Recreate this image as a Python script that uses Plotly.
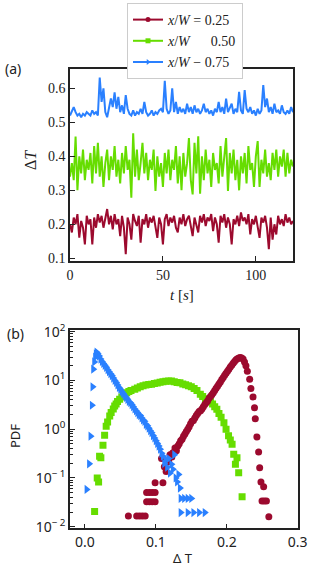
import plotly.graph_objects as go

# ---------------- data: panel (a) time series ----------------
t_s = list(range(0, 121))
dT_025 = [0.2, 0.176, 0.22, 0.2, 0.23, 0.161, 0.21, 0.19, 0.141, 0.225,
          0.2, 0.215, 0.141, 0.22, 0.19, 0.23, 0.205, 0.225, 0.19, 0.22,
          0.245, 0.2, 0.225, 0.185, 0.23, 0.2, 0.215, 0.165, 0.225, 0.19,
          0.112, 0.22, 0.2, 0.155, 0.23, 0.21, 0.195, 0.225, 0.146, 0.215,
          0.2, 0.23, 0.19, 0.22, 0.205, 0.225, 0.185, 0.16, 0.22, 0.2,
          0.141, 0.215, 0.23, 0.195, 0.22, 0.205, 0.225, 0.19, 0.176, 0.22,
          0.2, 0.23, 0.195, 0.215, 0.225, 0.19, 0.165, 0.22, 0.2, 0.176,
          0.225, 0.205, 0.23, 0.195, 0.22, 0.21, 0.23, 0.18, 0.22, 0.2,
          0.146, 0.225, 0.205, 0.23, 0.19, 0.22, 0.2, 0.141, 0.215, 0.2,
          0.225, 0.195, 0.235, 0.21, 0.22, 0.2, 0.23, 0.17, 0.215, 0.2,
          0.225, 0.19, 0.16, 0.22, 0.205, 0.225, 0.19, 0.127, 0.22, 0.155,
          0.2, 0.17, 0.225, 0.2, 0.215, 0.195, 0.23, 0.205, 0.22, 0.2, 0.21]
dT_050 = [0.34, 0.38, 0.33, 0.458, 0.3, 0.4, 0.35, 0.42, 0.33, 0.39,
          0.36, 0.41, 0.32, 0.43, 0.35, 0.44, 0.34, 0.4, 0.31, 0.38,
          0.42, 0.33, 0.4, 0.36, 0.43, 0.34, 0.39, 0.32, 0.41, 0.35,
          0.43, 0.36, 0.39, 0.278, 0.468, 0.34, 0.42, 0.33, 0.38, 0.44,
          0.35, 0.41, 0.33, 0.39, 0.36, 0.42, 0.298, 0.4, 0.34, 0.38,
          0.31, 0.41, 0.35, 0.42, 0.33, 0.39, 0.36, 0.43, 0.32, 0.4,
          0.3, 0.41, 0.34, 0.38, 0.454, 0.33, 0.288, 0.44, 0.35, 0.459,
          0.29, 0.4, 0.33, 0.42, 0.35, 0.39, 0.31, 0.41, 0.36, 0.38,
          0.32, 0.43, 0.34, 0.39, 0.454, 0.298, 0.41, 0.35, 0.42, 0.33,
          0.39, 0.3, 0.4, 0.35, 0.41, 0.32, 0.43, 0.36, 0.38, 0.31,
          0.4, 0.445, 0.31, 0.39, 0.35, 0.42, 0.34, 0.38, 0.33, 0.41,
          0.36, 0.42, 0.34, 0.4, 0.37, 0.42, 0.34, 0.41, 0.35, 0.39, 0.37]
dT_075 = [0.52, 0.535, 0.545, 0.53, 0.52, 0.525, 0.515, 0.525, 0.52, 0.53,
          0.525, 0.52, 0.535, 0.525, 0.53, 0.52, 0.632, 0.56, 0.6, 0.53,
          0.515, 0.54, 0.57, 0.545, 0.588, 0.54, 0.575, 0.53, 0.55, 0.525,
          0.58, 0.54, 0.525, 0.52, 0.535, 0.52, 0.53, 0.525, 0.54, 0.525,
          0.56, 0.53, 0.52, 0.525, 0.535, 0.52, 0.53, 0.525, 0.535, 0.54,
          0.53, 0.622, 0.54, 0.525, 0.535, 0.6, 0.53, 0.56, 0.525, 0.545,
          0.53, 0.54, 0.525, 0.555, 0.53, 0.545, 0.525, 0.55, 0.53, 0.54,
          0.525, 0.535, 0.555, 0.53, 0.54, 0.525, 0.535, 0.52, 0.54, 0.53,
          0.56, 0.53, 0.545, 0.525, 0.57, 0.53, 0.545, 0.555, 0.525, 0.54,
          0.53, 0.59, 0.535, 0.525, 0.595, 0.54, 0.53, 0.545, 0.525, 0.535,
          0.52, 0.54, 0.525, 0.535, 0.61, 0.545, 0.57, 0.53, 0.545, 0.525,
          0.555, 0.53, 0.535, 0.525, 0.55, 0.53, 0.525, 0.535, 0.525, 0.545, 0.53]

# ---------------- data: panel (b) PDFs ----------------
pdf_x_025 = [0.0613, 0.073, 0.077, 0.081, 0.085,
             0.087, 0.091, 0.095, 0.099, 0.087, 0.091, 0.095, 0.099,
             0.099, 0.110,
             0.108, 0.112, 0.1145, 0.116, 0.118, 0.120, 0.1226, 0.124, 0.127, 0.129,
             0.131, 0.133, 0.135, 0.137, 0.139, 0.141, 0.143, 0.145, 0.147, 0.149,
             0.151, 0.153, 0.155, 0.157, 0.159, 0.161, 0.163, 0.165, 0.167, 0.169,
             0.171, 0.173, 0.175, 0.177, 0.179, 0.181, 0.183, 0.185, 0.187, 0.189,
             0.191, 0.193, 0.195, 0.197, 0.199, 0.201, 0.203, 0.205, 0.207, 0.209,
             0.211, 0.213, 0.215, 0.217, 0.219, 0.221, 0.223, 0.225, 0.227, 0.229,
             0.2323, 0.234, 0.237, 0.2391, 0.2402, 0.2425, 0.2449, 0.2464, 0.2482, 0.252,
             0.2497, 0.2528, 0.2559, 0.2593]
pdf_y_025 = [0.0166, 0.0166, 0.0166, 0.0166, 0.0166,
             0.0326, 0.0326, 0.0326, 0.0326, 0.05, 0.05, 0.05, 0.05,
             0.08, 0.08,
             0.25, 0.17, 0.135, 0.21, 0.22, 0.3, 0.27, 0.33, 0.41, 0.36,
             0.45, 0.5, 0.58, 0.62, 0.72, 0.8, 0.9, 1.0, 1.12, 1.3,
             1.45, 1.5, 1.7, 1.9, 2.1, 2.3, 2.4, 2.6, 2.9, 3.2,
             3.5, 3.8, 4.3, 4.7, 5.1, 5.6, 6.2, 6.9, 7.6, 8.5,
             9.3, 10.5, 11.5, 12.8, 14.0, 15.5, 17.0, 18.8, 20.5, 22.5,
             24.5, 26.5, 28.0, 29.0, 29.5, 29.0, 27.5, 24.0, 20.0, 15.5,
             10.6, 6.8, 4.6, 2.76, 1.64, 0.69, 0.34, 0.162, 0.083, 0.066,
             0.0336, 0.0336, 0.0336, 0.016]

pdf_x_050 = [0.0137, 0.0174, 0.0193, 0.0207, 0.0225, 0.0255, 0.0278, 0.030, 0.032, 0.035,
             0.037, 0.040, 0.042, 0.044, 0.046, 0.049, 0.052, 0.054, 0.0564, 0.059,
             0.062, 0.065, 0.0703, 0.074, 0.078, 0.082, 0.086, 0.090, 0.094, 0.098,
             0.102, 0.106, 0.110, 0.114, 0.118, 0.122, 0.126, 0.130, 0.134, 0.138,
             0.142, 0.146, 0.150, 0.154, 0.158, 0.1627, 0.166, 0.170, 0.174, 0.177,
             0.180, 0.183, 0.186, 0.189, 0.192, 0.196, 0.199, 0.2025, 0.205, 0.2075,
             0.2098, 0.2122, 0.2144, 0.2168, 0.2216]
pdf_y_050 = [0.0204, 0.10, 0.083, 0.28, 0.26, 0.47, 0.75, 1.15, 1.4, 1.87,
             2.2, 2.6, 3.0, 3.3, 3.7, 4.1, 4.6, 4.9, 5.2, 5.6,
             5.9, 6.2, 6.6, 7.0, 7.4, 7.8, 8.1, 8.3, 8.4, 8.7,
             8.9, 9.2, 9.4, 9.6, 9.8, 9.7, 9.4, 9.1, 9.0, 8.5,
             8.2, 7.8, 7.4, 6.8, 6.2, 5.2, 4.7, 4.2, 4.0, 3.8,
             3.3, 2.9, 2.56, 2.1, 1.75, 1.36, 1.0, 0.73, 0.6, 0.49,
             0.305, 0.19, 0.26, 0.128, 0.041]

pdf_x_075 = [0.0024, 0.006, 0.008, 0.0099, 0.0108, 0.0118, 0.0132, 0.0145, 0.0155, 0.0165,
             0.018, 0.020, 0.022, 0.024, 0.026, 0.028, 0.030, 0.032, 0.034, 0.036,
             0.038, 0.040, 0.042, 0.044, 0.046, 0.048, 0.050, 0.052, 0.054, 0.056,
             0.058, 0.060, 0.062, 0.064, 0.066, 0.068, 0.070, 0.072, 0.074, 0.076,
             0.078, 0.080, 0.082, 0.084, 0.086, 0.088, 0.090, 0.092, 0.094, 0.096,
             0.098, 0.100, 0.102, 0.104, 0.106, 0.108, 0.110, 0.112, 0.114, 0.116,
             0.118, 0.120, 0.122, 0.124, 0.126, 0.128, 0.130, 0.132, 0.134,
             0.135, 0.140, 0.145, 0.150,
             0.135, 0.145, 0.153, 0.161, 0.169]
pdf_y_075 = [0.058, 0.195, 0.72, 3.1, 7.4, 17.0, 24.0, 30.0, 35.0, 38.0,
             35.5, 31.6, 27.5, 24.5, 22.4, 20.4, 18.6, 16.6, 15.1, 13.8,
             12.6, 11.2, 10.0, 9.1, 8.1, 7.2, 6.6, 5.9, 5.4, 4.9,
             4.5, 4.1, 3.7, 3.5, 3.2, 2.9, 2.6, 2.4, 2.2, 2.0,
             1.9, 1.7, 1.55, 1.45, 1.26, 1.17, 1.05, 0.93, 0.85, 0.74,
             0.66, 0.58, 0.51, 0.45, 0.39, 0.32, 0.28, 0.2, 0.24, 0.166,
             0.25, 0.126, 0.19, 0.15, 0.3, 0.1, 0.083, 0.118, 0.062,
             0.038, 0.038, 0.038, 0.038,
             0.0195, 0.0195, 0.0195, 0.0195, 0.0195]

# tick labels
pdf_tickvals = [0.01, 0.1, 1, 10, 100]
pdf_ticktext = ["10<sup>\u2212 2</sup>", "10<sup>\u2212 1</sup>", "10<sup>0</sup>",
                "10<sup>1</sup>", "10<sup>2</sup>"]
pdf_minor = [m * d for d in [0.01, 0.1, 1, 10] for m in range(2, 10)]

labels = ["<i>x</i>/<i>W</i> = 0.25", "<i>x</i>/<i>W</i> \u2003 0.50", "<i>x</i>/<i>W</i> \u2212 0.75"]
c_red, c_green, c_blue = "#9c0a2e", "#66dd00", "#2a80ff"

fig = go.Figure()

# panel (a) lines
for y, c in [(dT_025, c_red), (dT_050, c_green), (dT_075, c_blue)]:
    fig.add_trace(go.Scatter(x=t_s, y=y, mode="lines", line=dict(color=c, width=2),
                             showlegend=False, xaxis="x", yaxis="y"))

# panel (b) markers
fig.add_trace(go.Scatter(x=pdf_x_050, y=pdf_y_050, mode="markers",
                         marker=dict(symbol="square", size=7, color=c_green),
                         showlegend=False, xaxis="x2", yaxis="y2"))
fig.add_trace(go.Scatter(x=pdf_x_025, y=pdf_y_025, mode="markers",
                         marker=dict(symbol="circle", size=7, color=c_red),
                         showlegend=False, xaxis="x2", yaxis="y2"))
fig.add_trace(go.Scatter(x=pdf_x_075, y=pdf_y_075, mode="markers",
                         marker=dict(symbol="triangle-right", size=8, color=c_blue),
                         showlegend=False, xaxis="x2", yaxis="y2"))

# legend entries
for lab, c, sym in zip(labels, [c_red, c_green, c_blue], ["circle", "square", "triangle-right"]):
    fig.add_trace(go.Scatter(x=[None], y=[None], mode="lines+markers", name=lab,
                             line=dict(color=c, width=2), marker=dict(symbol=sym, size=5, color=c),
                             xaxis="x", yaxis="y"))

serif = "Liberation Serif"
sans = "Noto Sans"
W, H = 320, 580

ax_common = dict(showgrid=False, zeroline=False, showline=True, mirror=True,
                 linecolor="#222", linewidth=1.5, ticks="inside", ticklen=5,
                 tickcolor="#222", automargin=False)

fig.update_layout(
    width=W, height=H, margin=dict(l=0, r=0, t=0, b=0),
    paper_bgcolor="white", plot_bgcolor="white",
    xaxis=dict(domain=[70 / W, 293 / W], range=[0, 120], tickvals=[0, 50, 100],
               tickfont=dict(family=serif, size=14, color="#222"), anchor="y", **ax_common),
    yaxis=dict(domain=[1 - 261 / H, 1 - 69 / H], range=[0.092, 0.657],
               tickvals=[0.1, 0.2, 0.3, 0.4, 0.5, 0.6], tickformat=".1f",
               tickfont=dict(family=serif, size=14, color="#222"), anchor="x", **ax_common),
    xaxis2=dict(domain=[70 / W, 297.7 / W], range=[-0.021, 0.3], tickvals=[0, 0.1, 0.2, 0.3],
                tickformat=".1f", tickfont=dict(family=sans, size=14, color="#222"),
                anchor="y2", **ax_common),
    yaxis2=dict(domain=[1 - 528.3 / H, 1 - 330 / H], type="log", range=[-2.033, 2.035],
                tickvals=pdf_tickvals, ticktext=pdf_ticktext,
                tickfont=dict(family=sans, size=14, color="#222"), anchor="x2",
                minor=dict(tickvals=pdf_minor, ticks="inside", ticklen=3, tickcolor="#222"),
                **ax_common),
    legend=dict(x=127 / W, y=1 - 3 / H, xanchor="left", yanchor="top",
                font=dict(family=serif, size=14, color="#222"),
                bordercolor="#cccccc", borderwidth=1, bgcolor="white",
                itemwidth=30, tracegroupgap=0),
    showlegend=True,
)

ann = [
    dict(text="(a)", x=13 / W, y=1 - 68 / H, font=dict(family=sans, size=14, color="#222")),
    dict(text="(b)", x=15 / W, y=1 - 333 / H, font=dict(family=sans, size=14, color="#222")),
    dict(text="\u0394<i>T</i>", x=30 / W, y=1 - 160 / H, textangle=-90,
         font=dict(family=serif, size=16, color="#222")),
    dict(text="<i>t</i> [<i>s</i>]", x=182 / W, y=1 - 295 / H,
         font=dict(family=serif, size=15, color="#222")),
    dict(text="PDF", x=15 / W, y=1 - 436 / H, textangle=-90,
         font=dict(family=sans, size=13, color="#222")),
    dict(text="\u0394 T", x=183 / W, y=1 - 558 / H,
         font=dict(family=sans, size=13, color="#222")),
]
for a in ann:
    fig.add_annotation(xref="paper", yref="paper", showarrow=False,
                       xanchor="center", yanchor="middle", **a)

fig.write_html("out.html", config={"displayModeBar": False},
               post_script="document.body.style.margin='0';document.body.style.padding='0';")
